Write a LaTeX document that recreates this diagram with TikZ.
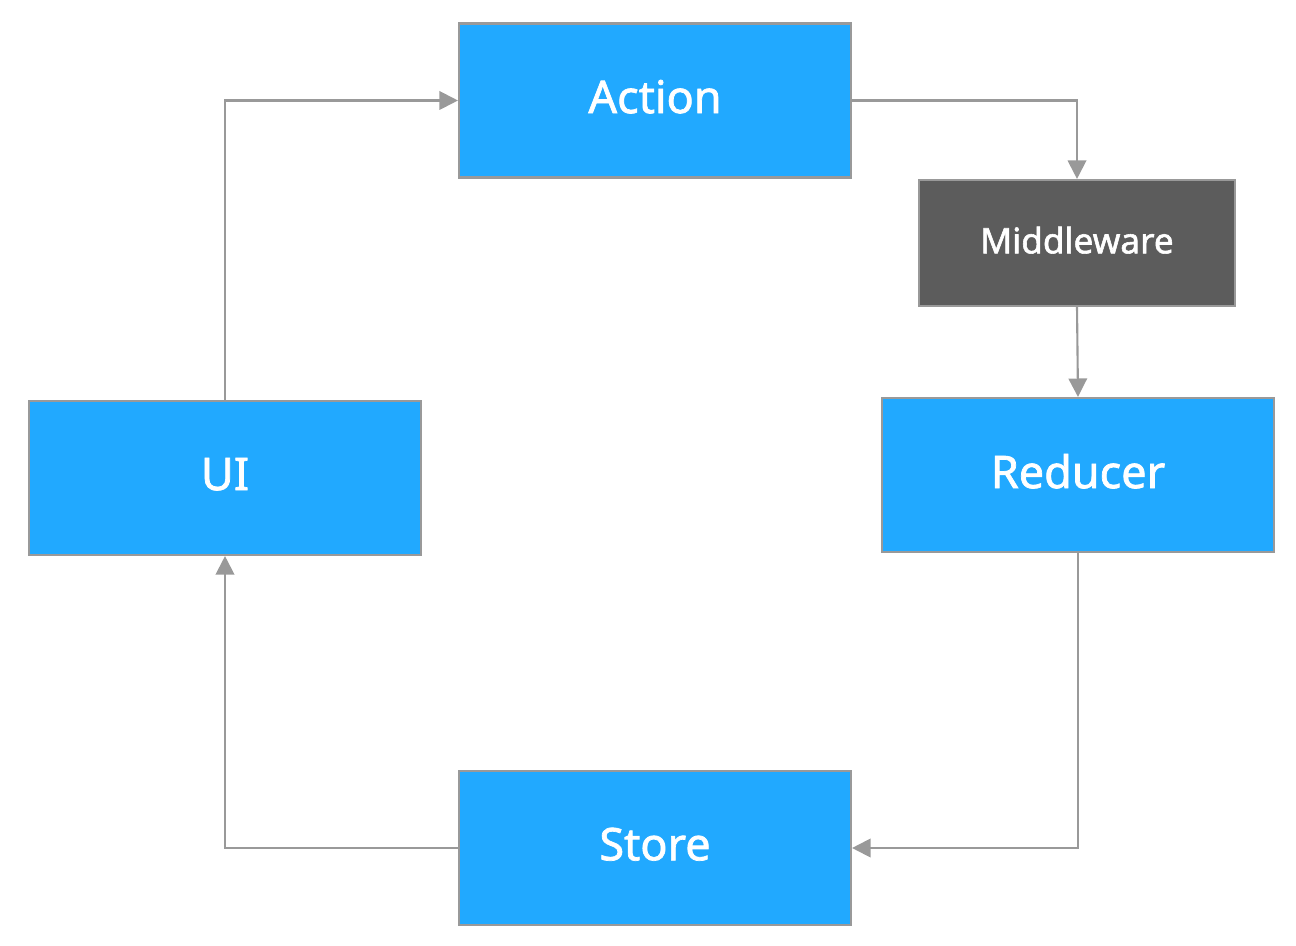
\documentclass[tikz,border=0pt]{standalone}
\usepackage{fontspec}
\setmainfont{Noto Sans}[AutoFakeBold=1.6]
\usetikzlibrary{shapes,arrows.meta}
\definecolor{boxblue}{HTML}{21A9FF}
\definecolor{boxdark}{HTML}{5C5C5C}
\definecolor{linegray}{HTML}{999999}
\tikzstyle{bx}=[rectangle,draw=linegray,line width=1.2pt,fill=boxblue,text=white,font=\fontsize{25.6}{30}\selectfont\bfseries,minimum width=7.84cm,minimum height=3.08cm,inner sep=1pt,text depth=0.16cm]
\tikzstyle{mw}=[bx,fill=boxdark,font=\fontsize{20}{24}\selectfont\bfseries,minimum width=6.32cm,minimum height=2.52cm,text depth=0.12cm]
\tikzstyle{ar}=[draw=linegray,line width=1.2pt,-{Triangle[length=10.5pt,width=10.5pt]}]

\begin{document}
\begin{tikzpicture}
\useasboundingbox (0,0) rectangle (25.92,-18.92);
\node[bx] (action) at (13.1,-2.01) {Action};
\node[mw] (mware) at (21.54,-4.86) {Middleware};
\node[bx] (reducer) at (21.56,-9.5) {Reducer};
\node[bx] (ui) at (4.5,-9.56) {UI};
\node[bx] (store) at (13.1,-16.96) {Store};
\draw[ar] (ui.north) |- (action.west);
\draw[ar] (action.east) -| (mware.north);
\draw[ar] (mware.south) -- (reducer.north);
\draw[ar] (reducer.south) |- (store.east);
\draw[ar] (store.west) -| (ui.south);
\end{tikzpicture}
\end{document}
